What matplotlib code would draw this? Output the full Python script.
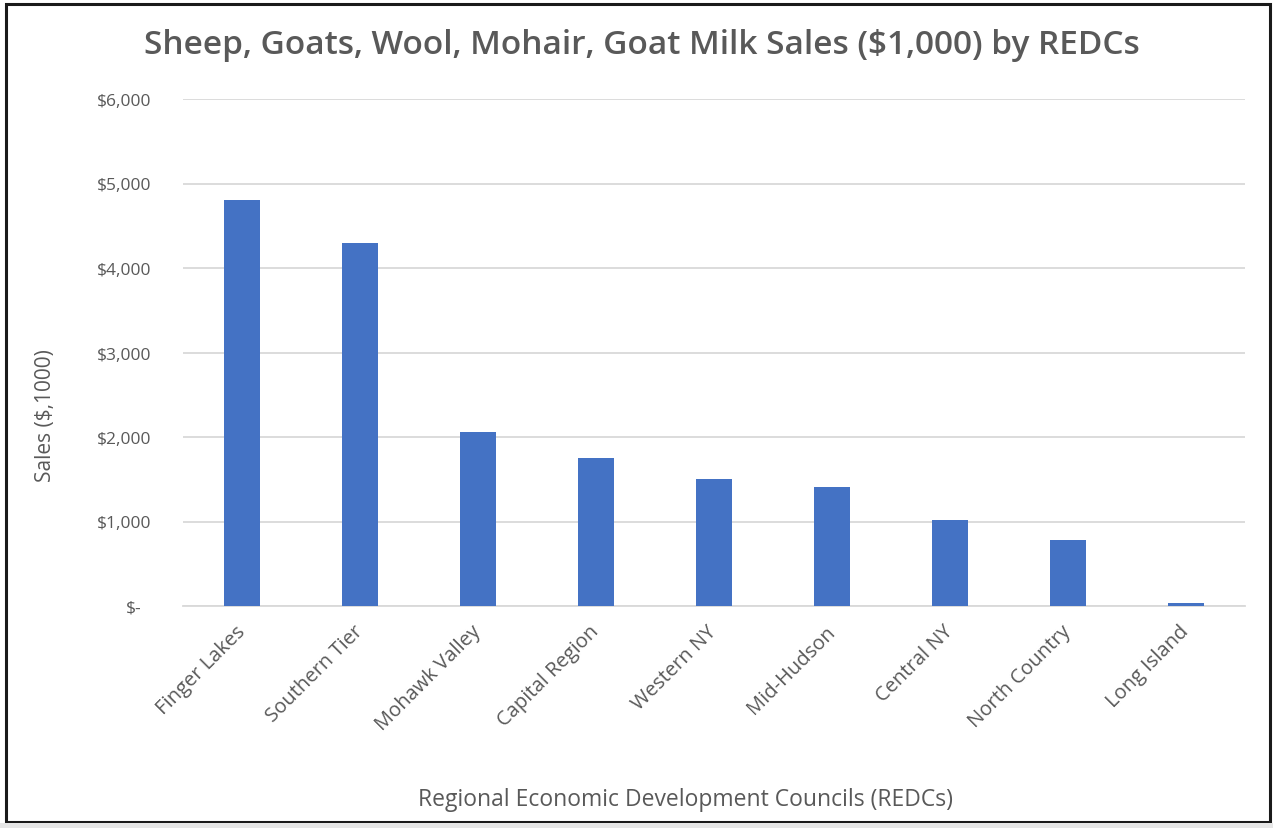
import matplotlib
matplotlib.use('Agg')
import matplotlib.pyplot as plt
import matplotlib.patches as mpatches
import matplotlib.transforms as mtransforms

# ---- data ----
regions = ['Finger Lakes', 'Southern Tier', 'Mohawk Valley', 'Capital Region',
           'Western NY', 'Mid-Hudson', 'Central NY', 'North Country', 'Long Island']
sales = [4800, 4290, 2060, 1750, 1500, 1410, 1020, 780, 40]
y_ticks = [0, 1000, 2000, 3000, 4000, 5000, 6000]
y_tick_labels = ['$-', '$1,000', '$2,000', '$3,000', '$4,000', '$5,000', '$6,000']

# ---- style ----
bar_color = '#4472C4'
grid_color = '#D9D9D9'
text_color = '#595959'
font = 'Open Sans'

W, H = 1273, 829
fig = plt.figure(figsize=(W / 100, H / 100), dpi=100)
ax = fig.add_axes([183 / W, 1 - 607 / H, (1245 - 183) / W, (607 - 100) / H])

x = list(range(len(regions)))
ax.bar(x, sales, width=0.31, color=bar_color, zorder=3)

ax.set_xlim(-0.5, len(regions) - 0.5)
ax.set_ylim(0, 6000)
ax.set_yticks(y_ticks)
ax.set_yticklabels(y_tick_labels, fontsize=12.5, color=text_color, family=font)
ax.yaxis.grid(True, color=grid_color, linewidth=1.3, zorder=0)
ax.set_axisbelow(True)

ax.set_xticks(x)
ax.set_xticklabels(regions, rotation=45, ha='right', va='center',
                   rotation_mode='anchor', fontsize=14.5, color=text_color, family=font)

for side in ['top', 'right', 'left']:
    ax.spines[side].set_visible(False)
ax.spines['bottom'].set_color(grid_color)
ax.spines['bottom'].set_linewidth(1.3)
ax.tick_params(axis='both', length=0)
ax.tick_params(axis='y', pad=23)
ax.tick_params(axis='x', pad=16)

# the "$-" label sits a little left, like Excel's accounting format
zero_lbl = ax.get_yticklabels()[0]
zero_lbl.set_transform(zero_lbl.get_transform() +
                       mtransforms.ScaledTranslation(-7 / 72, 0, fig.dpi_scale_trans))

fig.text(45 / W, 1 - 416 / H, 'Sales ($,1000)', rotation=90,
         ha='center', va='center', fontsize=15, color=text_color, family=font)

fig.text(685 / W, 1 - 800 / H, 'Regional Economic Development Councils (REDCs)',
         ha='center', va='center', fontsize=16.5, color=text_color, family=font)

fig.text(642 / W, 1 - 45 / H,
         'Sheep, Goats, Wool, Mohair, Goat Milk Sales ($1,000) by REDCs',
         ha='center', va='center', fontsize=24, fontweight='semibold',
         color=text_color, family=font)

# frame around the chart
fig.patches.append(mpatches.Rectangle((6 / W, 1 - 823 / H), (1270 - 6) / W,
                                      (823 - 5) / H, transform=fig.transFigure,
                                      fill=False, edgecolor='#1a1a1a', linewidth=2.2))
fig.patches.append(mpatches.Rectangle((0, 0), 1, 5 / H, transform=fig.transFigure,
                                      facecolor='#E6E6E6', edgecolor='none'))

fig.savefig('out.png', dpi=100, facecolor='white')
